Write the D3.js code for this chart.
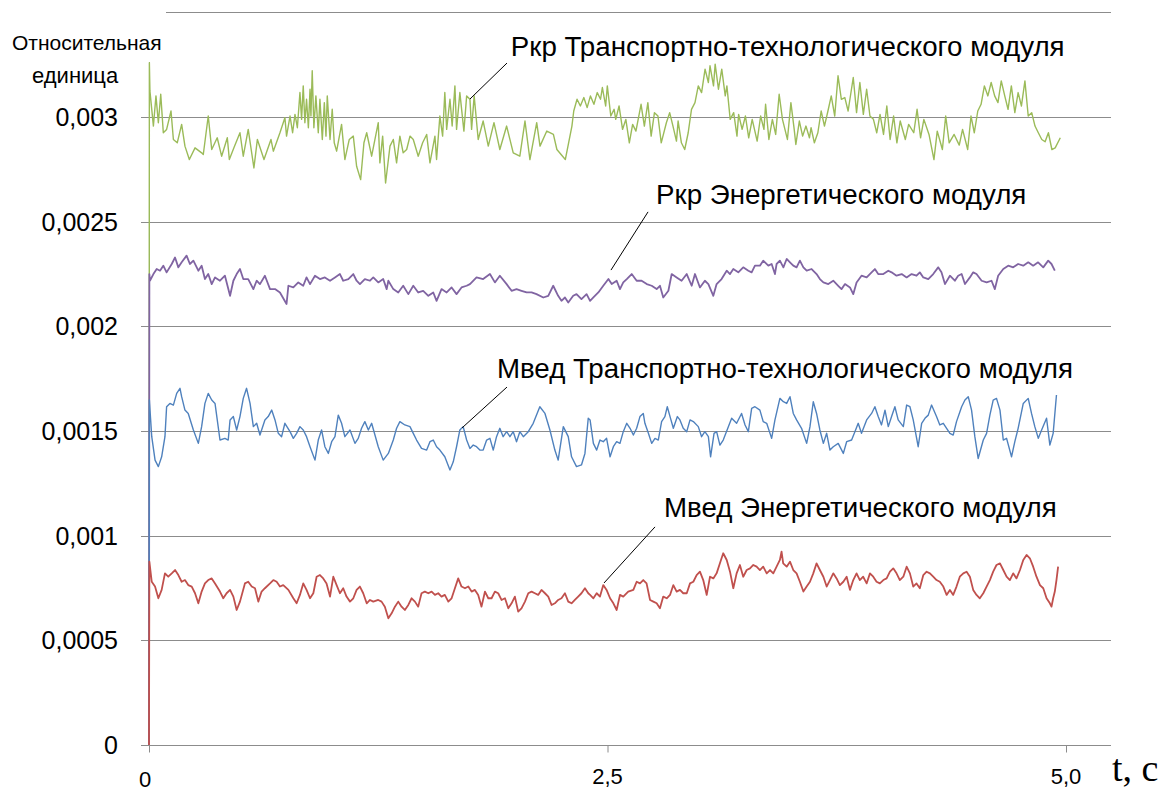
<!DOCTYPE html>
<html><head><meta charset="utf-8">
<script src="https://cdn.jsdelivr.net/npm/d3@7"></script>
<style>body{margin:0;background:#fff}svg{display:block}</style>
</head><body><svg id="c" width="1168" height="791"></svg>
<script>
// ---------- data ----------
const yTicks = [0, 0.0005, 0.001, 0.0015, 0.002, 0.0025, 0.003, 0.0035];
const yTickLabels = ["0", "0,0005", "0,001", "0,0015", "0,002", "0,0025", "0,003", "0,0035"];
const xTicks = [0, 2.5, 5.0];
const xTickLabels = ["0", "2,5", "5,0"];
const seriesNames = [
  "Ркр Транспортно-технологического модуля",
  "Ркр Энергетического модуля",
  "Мвед Транспортно-технологического модуля",
  "Мвед Энергетического модуля"
];
const yTitle = ["Относительная", "единица"];
const xTitle = "t, c";

const pkrTransport = [[0,0],[0.002,0.00326],[0.005,0.003125],[0.024,0.002957],[0.038,0.003101],[0.051,0.002973],[0.064,0.003109],[0.078,0.002925],[0.096,0.002941],[0.120,0.003029],[0.133,0.002893],[0.154,0.002877],[0.178,0.002965],[0.196,0.002861],[0.220,0.002797],[0.251,0.002853],[0.287,0.002829],[0.296,0.002821],[0.323,0.003005],[0.342,0.002845],[0.372,0.002901],[0.396,0.002813],[0.427,0.002901],[0.438,0.002797],[0.463,0.002853],[0.496,0.002925],[0.514,0.002813],[0.541,0.002941],[0.572,0.002757],[0.591,0.002893],[0.627,0.002797],[0.665,0.002893],[0.678,0.002837],[0.714,0.002925],[0.741,0.002997],[0.750,0.002909],[0.769,0.003005],[0.783,0.002925],[0.796,0.003013],[0.809,0.002949],[0.823,0.003117],[0.832,0.002989],[0.841,0.003149],[0.850,0.002973],[0.859,0.003085],[0.869,0.002949],[0.878,0.003133],[0.883,0.003005],[0.890,0.003221],[0.899,0.002949],[0.910,0.003101],[0.923,0.002925],[0.932,0.003085],[0.945,0.002893],[0.956,0.003069],[0.965,0.002909],[0.972,0.003101],[0.987,0.002893],[0.999,0.003037],[1.010,0.002877],[1.023,0.002837],[1.050,0.002965],[1.068,0.002797],[1.092,0.002893],[1.114,0.002909],[1.132,0.002765],[1.154,0.002701],[1.172,0.002877],[1.187,0.002925],[1.214,0.002813],[1.250,0.002973],[1.259,0.002781],[1.274,0.002909],[1.290,0.002685],[1.314,0.002861],[1.332,0.002893],[1.350,0.002781],[1.368,0.002909],[1.386,0.002829],[1.405,0.002845],[1.423,0.002909],[1.441,0.002893],[1.468,0.002813],[1.492,0.002877],[1.514,0.002917],[1.532,0.002781],[1.559,0.002909],[1.568,0.002797],[1.586,0.003005],[1.601,0.002909],[1.613,0.003117],[1.623,0.002941],[1.641,0.003085],[1.653,0.002957],[1.668,0.003149],[1.677,0.002941],[1.695,0.003117],[1.717,0.002933],[1.732,0.003101],[1.750,0.003085],[1.759,0.002941],[1.773,0.003101],[1.795,0.002893],[1.822,0.002981],[1.850,0.002861],[1.881,0.002973],[1.913,0.002845],[1.950,0.002957],[1.986,0.002829],[2.022,0.002813],[2.050,0.002981],[2.077,0.002797],[2.114,0.002973],[2.132,0.002861],[2.169,0.002933],[2.205,0.002917],[2.224,0.002845],[2.270,0.002797],[2.288,0.002877],[2.306,0.002957],[2.316,0.003029],[2.334,0.003085],[2.352,0.003053],[2.371,0.003093],[2.389,0.003045],[2.407,0.003101],[2.426,0.003061],[2.444,0.003117],[2.462,0.003085],[2.472,0.003141],[2.490,0.003053],[2.499,0.003149],[2.518,0.003005],[2.536,0.003037],[2.545,0.002989],[2.563,0.003053],[2.582,0.002941],[2.600,0.002989],[2.619,0.002877],[2.637,0.002965],[2.655,0.002933],[2.683,0.003061],[2.701,0.002957],[2.720,0.003069],[2.738,0.002909],[2.756,0.003021],[2.775,0.003005],[2.793,0.002877],[2.821,0.002973],[2.839,0.003021],[2.857,0.002957],[2.876,0.002885],[2.885,0.002981],[2.903,0.002877],[2.921,0.002845],[2.940,0.002925],[2.958,0.003037],[2.977,0.003069],[2.995,0.003149],[3.013,0.003117],[3.032,0.003229],[3.050,0.003165],[3.059,0.003245],[3.078,0.003149],[3.087,0.003253],[3.105,0.003133],[3.123,0.003229],[3.142,0.003101],[3.151,0.003149],[3.169,0.002989],[3.188,0.003021],[3.206,0.002909],[3.215,0.003013],[3.234,0.002941],[3.252,0.003005],[3.270,0.002901],[3.289,0.002989],[3.316,0.002885],[3.335,0.003005],[3.353,0.002941],[3.362,0.003061],[3.380,0.002893],[3.399,0.002989],[3.417,0.002917],[3.436,0.003109],[3.454,0.002989],[3.481,0.002893],[3.500,0.003069],[3.518,0.002941],[3.527,0.002869],[3.546,0.002981],[3.564,0.002909],[3.582,0.002957],[3.601,0.002901],[3.610,0.002949],[3.628,0.002877],[3.647,0.002925],[3.665,0.003029],[3.683,0.002957],[3.702,0.003029],[3.720,0.003101],[3.739,0.003005],[3.757,0.003197],[3.775,0.003085],[3.794,0.003093],[3.812,0.003029],[3.840,0.003189],[3.858,0.003021],[3.876,0.003165],[3.895,0.003013],[3.913,0.003133],[3.931,0.003005],[3.950,0.002989],[3.968,0.002925],[3.986,0.003013],[4.005,0.002917],[4.023,0.003053],[4.041,0.002893],[4.060,0.003005],[4.078,0.002877],[4.096,0.002981],[4.124,0.002893],[4.142,0.002965],[4.170,0.002925],[4.188,0.003037],[4.207,0.002901],[4.225,0.002989],[4.253,0.002917],[4.280,0.002797],[4.298,0.002933],[4.326,0.002845],[4.344,0.003005],[4.363,0.002877],[4.390,0.002917],[4.418,0.002866],[4.436,0.002941],[4.464,0.002845],[4.482,0.003005],[4.500,0.002925],[4.519,0.003029],[4.537,0.003061],[4.555,0.003149],[4.574,0.003101],[4.592,0.003165],[4.611,0.003101],[4.629,0.003069],[4.647,0.003173],[4.666,0.003101],[4.684,0.003037],[4.702,0.003149],[4.721,0.003021],[4.739,0.003117],[4.757,0.003053],[4.776,0.003173],[4.794,0.003005],[4.813,0.003021],[4.831,0.002957],[4.849,0.002925],[4.868,0.002893],[4.886,0.002882],[4.904,0.002925],[4.923,0.002845],[4.941,0.002853],[4.969,0.002901]];

const pkrEnergy = [[0,0],[0.002,0.00225],[0.005,0.002218],[0.024,0.00225],[0.042,0.002274],[0.060,0.002266],[0.078,0.00229],[0.096,0.002258],[0.124,0.002298],[0.142,0.002329],[0.160,0.002282],[0.178,0.002306],[0.205,0.002338],[0.223,0.002298],[0.242,0.002314],[0.269,0.002266],[0.287,0.00229],[0.305,0.002226],[0.323,0.00225],[0.342,0.002202],[0.360,0.002234],[0.387,0.002218],[0.414,0.002242],[0.442,0.002146],[0.460,0.002218],[0.478,0.00225],[0.496,0.002274],[0.514,0.002226],[0.541,0.002226],[0.569,0.002178],[0.587,0.002218],[0.605,0.002202],[0.632,0.002242],[0.660,0.002178],[0.687,0.002178],[0.714,0.002162],[0.750,0.002107],[0.760,0.002194],[0.787,0.002186],[0.814,0.00221],[0.841,0.002194],[0.859,0.002234],[0.878,0.002202],[0.905,0.002242],[0.932,0.002226],[0.959,0.002234],[0.987,0.002218],[1.014,0.002234],[1.041,0.00225],[1.059,0.002218],[1.087,0.002226],[1.114,0.00225],[1.132,0.002218],[1.150,0.002202],[1.177,0.002226],[1.205,0.002218],[1.223,0.002234],[1.250,0.00221],[1.277,0.002226],[1.296,0.002178],[1.305,0.002218],[1.332,0.002178],[1.359,0.002162],[1.386,0.002194],[1.414,0.002154],[1.441,0.002194],[1.468,0.002162],[1.495,0.00217],[1.523,0.002146],[1.550,0.002162],[1.568,0.002122],[1.595,0.002178],[1.623,0.002162],[1.650,0.002186],[1.677,0.002154],[1.704,0.002186],[1.732,0.002194],[1.750,0.002202],[1.786,0.002234],[1.822,0.002226],[1.859,0.00225],[1.886,0.00221],[1.913,0.002242],[1.950,0.002202],[1.977,0.00217],[2.004,0.002178],[2.031,0.00217],[2.059,0.002162],[2.086,0.002162],[2.113,0.002154],[2.150,0.002138],[2.177,0.002146],[2.204,0.002194],[2.231,0.002146],[2.249,0.002122],[2.268,0.002138],[2.286,0.002114],[2.313,0.002146],[2.331,0.002154],[2.358,0.00213],[2.386,0.002154],[2.405,0.002122],[2.423,0.002138],[2.450,0.002162],[2.477,0.002194],[2.505,0.002226],[2.523,0.002202],[2.550,0.002218],[2.568,0.002178],[2.586,0.00221],[2.605,0.002226],[2.632,0.00225],[2.659,0.002218],[2.686,0.002218],[2.714,0.002202],[2.741,0.002194],[2.768,0.002178],[2.786,0.002194],[2.804,0.002138],[2.832,0.00217],[2.850,0.00225],[2.877,0.002234],[2.904,0.002218],[2.932,0.00225],[2.959,0.002194],[2.977,0.00225],[3.004,0.002186],[3.031,0.002218],[3.050,0.002202],[3.077,0.002146],[3.095,0.002202],[3.122,0.002226],[3.150,0.002266],[3.168,0.00225],[3.186,0.002274],[3.213,0.002258],[3.240,0.002282],[3.268,0.002266],[3.286,0.002258],[3.304,0.00229],[3.331,0.00229],[3.349,0.002314],[3.377,0.00229],[3.395,0.002298],[3.413,0.00225],[3.422,0.002298],[3.440,0.002314],[3.459,0.002282],[3.477,0.002322],[3.495,0.002306],[3.513,0.00229],[3.531,0.002282],[3.549,0.002314],[3.568,0.002282],[3.586,0.002266],[3.613,0.002274],[3.640,0.00225],[3.658,0.002226],[3.677,0.00221],[3.704,0.002202],[3.731,0.002218],[3.758,0.002194],[3.776,0.002178],[3.795,0.002202],[3.822,0.002186],[3.840,0.002154],[3.858,0.00221],[3.885,0.002242],[3.913,0.002234],[3.940,0.002258],[3.958,0.002274],[3.976,0.00225],[4.004,0.00225],[4.031,0.002266],[4.049,0.002258],[4.076,0.002242],[4.104,0.00225],[4.131,0.002234],[4.158,0.00225],[4.185,0.002242],[4.203,0.002258],[4.222,0.002234],[4.249,0.002226],[4.276,0.00225],[4.303,0.002282],[4.321,0.002258],[4.340,0.002202],[4.367,0.002242],[4.394,0.002218],[4.412,0.002242],[4.431,0.00225],[4.449,0.002202],[4.476,0.002234],[4.494,0.002258],[4.512,0.00225],[4.540,0.002218],[4.567,0.00221],[4.594,0.002218],[4.612,0.002178],[4.630,0.002242],[4.658,0.002274],[4.685,0.00229],[4.712,0.002282],[4.739,0.002298],[4.767,0.00229],[4.794,0.002306],[4.821,0.00229],[4.848,0.002306],[4.876,0.002282],[4.903,0.002314],[4.921,0.002298],[4.939,0.002266]];

const mvedTransport = [[0,0],[0.002,0.001648],[0.015,0.001473],[0.033,0.001361],[0.051,0.00133],[0.069,0.001377],[0.087,0.001473],[0.096,0.001616],[0.114,0.001632],[0.133,0.001624],[0.151,0.00168],[0.169,0.001704],[0.178,0.001664],[0.196,0.0016],[0.214,0.001584],[0.242,0.001505],[0.269,0.001441],[0.287,0.001521],[0.305,0.001632],[0.323,0.00168],[0.342,0.001648],[0.360,0.001632],[0.387,0.001457],[0.414,0.001465],[0.432,0.001457],[0.442,0.001553],[0.460,0.001569],[0.478,0.001505],[0.496,0.001569],[0.514,0.001656],[0.532,0.001704],[0.551,0.001632],[0.569,0.001521],[0.587,0.001537],[0.605,0.001481],[0.632,0.001553],[0.650,0.001569],[0.669,0.0016],[0.687,0.001553],[0.705,0.001489],[0.723,0.001473],[0.741,0.001537],[0.769,0.001497],[0.787,0.001465],[0.805,0.001489],[0.823,0.001521],[0.841,0.001505],[0.859,0.001473],[0.878,0.001425],[0.905,0.001361],[0.923,0.001457],[0.941,0.001505],[0.959,0.001425],[0.978,0.001393],[0.996,0.001449],[1.014,0.001473],[1.032,0.001576],[1.050,0.001537],[1.068,0.001473],[1.096,0.001505],[1.123,0.001441],[1.141,0.001465],[1.159,0.001513],[1.177,0.001545],[1.196,0.001505],[1.214,0.001537],[1.232,0.001481],[1.250,0.001425],[1.277,0.001361],[1.305,0.001393],[1.332,0.001457],[1.350,0.001513],[1.368,0.001545],[1.395,0.001529],[1.423,0.001521],[1.441,0.001489],[1.459,0.001457],[1.486,0.001417],[1.514,0.001409],[1.532,0.001449],[1.550,0.001457],[1.568,0.001425],[1.586,0.001409],[1.613,0.001377],[1.641,0.001314],[1.659,0.001353],[1.677,0.001425],[1.695,0.001505],[1.713,0.001521],[1.732,0.001457],[1.750,0.001417],[1.768,0.001433],[1.786,0.001425],[1.804,0.001409],[1.822,0.001409],[1.841,0.001457],[1.859,0.001465],[1.877,0.001409],[1.895,0.001473],[1.913,0.001513],[1.931,0.001473],[1.950,0.001497],[1.968,0.001473],[1.986,0.001497],[2.004,0.001449],[2.022,0.001497],[2.041,0.001473],[2.068,0.001497],[2.095,0.001537],[2.131,0.001616],[2.159,0.001584],[2.186,0.001505],[2.213,0.001409],[2.231,0.001361],[2.259,0.001521],[2.286,0.001473],[2.304,0.001377],[2.331,0.00133],[2.358,0.001338],[2.377,0.001393],[2.395,0.001561],[2.405,0.001553],[2.423,0.001441],[2.441,0.001409],[2.459,0.001457],[2.477,0.001449],[2.495,0.001465],[2.514,0.001377],[2.532,0.001425],[2.550,0.001449],[2.568,0.001441],[2.586,0.001497],[2.605,0.001537],[2.623,0.001513],[2.641,0.001481],[2.659,0.001513],[2.677,0.001569],[2.695,0.001584],[2.704,0.001537],[2.723,0.001489],[2.741,0.001441],[2.759,0.001465],[2.777,0.001457],[2.795,0.001545],[2.813,0.001569],[2.826,0.001616],[2.841,0.001569],[2.859,0.001513],[2.881,0.001569],[2.895,0.001553],[2.913,0.001513],[2.932,0.001497],[2.950,0.001553],[2.968,0.001545],[2.995,0.001521],[3.013,0.001473],[3.031,0.001497],[3.050,0.001473],[3.062,0.001377],[3.081,0.001489],[3.095,0.001497],[3.113,0.001433],[3.131,0.001457],[3.159,0.001521],[3.177,0.001561],[3.204,0.001537],[3.231,0.001584],[3.250,0.001529],[3.268,0.001497],[3.286,0.001608],[3.304,0.001616],[3.331,0.0016],[3.349,0.001545],[3.368,0.001537],[3.395,0.001465],[3.413,0.001553],[3.440,0.001656],[3.459,0.00164],[3.477,0.001632],[3.495,0.001664],[3.513,0.001584],[3.531,0.001553],[3.558,0.001513],[3.586,0.001441],[3.604,0.001521],[3.622,0.00164],[3.640,0.001584],[3.658,0.001505],[3.677,0.001441],[3.695,0.001489],[3.713,0.001409],[3.731,0.001425],[3.758,0.001441],[3.786,0.001393],[3.804,0.001449],[3.831,0.001457],[3.849,0.001497],[3.867,0.001537],[3.885,0.001489],[3.913,0.001553],[3.940,0.001584],[3.958,0.001616],[3.976,0.001569],[3.994,0.001529],[4.013,0.0016],[4.031,0.001521],[4.049,0.001569],[4.067,0.001616],[4.085,0.001553],[4.113,0.001521],[4.131,0.001624],[4.149,0.001616],[4.167,0.001553],[4.194,0.001425],[4.213,0.001537],[4.231,0.001561],[4.249,0.001576],[4.267,0.001624],[4.294,0.001569],[4.312,0.001529],[4.331,0.001537],[4.349,0.001513],[4.367,0.001489],[4.385,0.001481],[4.403,0.001545],[4.431,0.001616],[4.449,0.001648],[4.467,0.001664],[4.485,0.0016],[4.503,0.001473],[4.521,0.001369],[4.549,0.001457],[4.567,0.001489],[4.585,0.001576],[4.603,0.001648],[4.621,0.001656],[4.640,0.0016],[4.658,0.001457],[4.676,0.001465],[4.703,0.001377],[4.721,0.001449],[4.739,0.001513],[4.767,0.001632],[4.794,0.001656],[4.812,0.001584],[4.830,0.001521],[4.849,0.001465],[4.867,0.001505],[4.894,0.001561],[4.912,0.001433],[4.930,0.001489],[4.948,0.001672]];

const mvedEnergy = [[0,0],[0.002,0.000876],[0.015,0.00078],[0.033,0.000757],[0.051,0.000701],[0.069,0.000741],[0.087,0.00082],[0.105,0.000804],[0.124,0.00082],[0.142,0.000836],[0.160,0.000812],[0.178,0.00078],[0.196,0.000788],[0.214,0.000764],[0.233,0.000757],[0.251,0.000725],[0.269,0.000677],[0.287,0.000733],[0.305,0.000772],[0.323,0.000788],[0.342,0.000796],[0.360,0.000772],[0.387,0.000733],[0.405,0.000701],[0.423,0.000725],[0.442,0.000741],[0.460,0.000709],[0.478,0.000645],[0.496,0.000685],[0.523,0.000772],[0.541,0.00078],[0.560,0.000757],[0.578,0.000749],[0.596,0.000685],[0.614,0.000733],[0.632,0.000749],[0.660,0.000772],[0.678,0.000788],[0.696,0.00078],[0.714,0.000757],[0.732,0.000764],[0.760,0.000741],[0.787,0.000701],[0.805,0.000677],[0.823,0.000717],[0.841,0.000772],[0.859,0.000741],[0.878,0.000701],[0.896,0.000725],[0.914,0.000804],[0.932,0.000812],[0.950,0.000796],[0.968,0.000772],[0.987,0.000709],[1.005,0.000804],[1.023,0.000764],[1.041,0.000725],[1.059,0.000749],[1.077,0.000709],[1.096,0.000685],[1.114,0.000701],[1.132,0.000741],[1.150,0.000757],[1.168,0.000725],[1.187,0.000677],[1.205,0.000693],[1.223,0.000685],[1.250,0.000693],[1.268,0.000685],[1.286,0.000661],[1.305,0.000605],[1.323,0.000629],[1.341,0.000661],[1.359,0.000685],[1.377,0.000661],[1.395,0.000645],[1.414,0.000669],[1.432,0.000701],[1.450,0.000685],[1.468,0.000661],[1.486,0.000725],[1.504,0.000733],[1.523,0.000725],[1.541,0.000733],[1.559,0.000717],[1.577,0.000725],[1.595,0.000709],[1.613,0.000717],[1.632,0.000685],[1.650,0.000701],[1.668,0.000749],[1.686,0.000796],[1.704,0.000757],[1.723,0.000749],[1.741,0.000757],[1.759,0.000733],[1.777,0.000741],[1.795,0.000717],[1.813,0.000661],[1.832,0.000733],[1.850,0.000701],[1.868,0.000701],[1.886,0.000733],[1.904,0.000725],[1.922,0.000693],[1.941,0.000701],[1.959,0.000653],[1.977,0.000677],[1.995,0.000709],[2.013,0.000637],[2.031,0.000653],[2.050,0.000685],[2.068,0.000725],[2.086,0.000733],[2.104,0.000725],[2.122,0.000717],[2.140,0.000741],[2.159,0.000725],[2.177,0.000709],[2.195,0.000669],[2.213,0.000677],[2.231,0.000693],[2.249,0.000701],[2.268,0.000725],[2.286,0.000685],[2.304,0.000677],[2.322,0.000693],[2.340,0.000709],[2.358,0.000725],[2.377,0.000749],[2.395,0.000725],[2.405,0.000717],[2.423,0.000701],[2.441,0.000725],[2.459,0.000709],[2.477,0.000764],[2.495,0.000741],[2.514,0.000701],[2.532,0.000677],[2.550,0.000645],[2.568,0.000717],[2.586,0.000709],[2.613,0.000733],[2.641,0.000741],[2.659,0.00078],[2.677,0.000772],[2.695,0.000788],[2.713,0.000772],[2.732,0.000693],[2.750,0.000685],[2.768,0.000677],[2.786,0.000653],[2.804,0.000709],[2.823,0.000701],[2.841,0.000717],[2.859,0.000764],[2.877,0.000733],[2.895,0.000741],[2.913,0.000725],[2.932,0.000725],[2.950,0.000772],[2.968,0.00078],[2.986,0.000812],[3.004,0.000828],[3.022,0.000788],[3.041,0.000717],[3.059,0.000804],[3.077,0.000796],[3.095,0.00082],[3.113,0.000868],[3.131,0.000916],[3.150,0.000884],[3.168,0.000828],[3.186,0.000749],[3.204,0.00082],[3.222,0.00086],[3.240,0.000804],[3.259,0.000836],[3.277,0.000844],[3.295,0.00086],[3.313,0.000852],[3.331,0.000836],[3.349,0.000852],[3.368,0.00082],[3.386,0.000836],[3.404,0.00082],[3.422,0.000852],[3.440,0.000884],[3.449,0.000924],[3.458,0.000868],[3.477,0.000852],[3.495,0.000876],[3.513,0.000836],[3.531,0.00082],[3.549,0.00078],[3.568,0.000733],[3.586,0.000757],[3.604,0.00078],[3.622,0.00082],[3.640,0.000868],[3.658,0.000836],[3.677,0.000804],[3.695,0.000757],[3.713,0.000788],[3.731,0.00082],[3.749,0.000796],[3.767,0.000764],[3.786,0.00078],[3.804,0.000804],[3.822,0.000741],[3.840,0.000788],[3.858,0.00082],[3.876,0.000788],[3.894,0.000804],[3.913,0.000772],[3.931,0.00082],[3.949,0.000804],[3.967,0.00078],[3.985,0.000772],[4.004,0.000788],[4.022,0.000796],[4.040,0.000828],[4.058,0.000844],[4.076,0.00082],[4.094,0.000788],[4.113,0.000804],[4.131,0.000852],[4.149,0.00082],[4.167,0.000757],[4.185,0.000772],[4.203,0.000749],[4.222,0.000812],[4.240,0.000828],[4.258,0.00082],[4.276,0.000804],[4.294,0.000788],[4.312,0.00078],[4.331,0.000757],[4.349,0.000717],[4.367,0.000741],[4.385,0.000717],[4.403,0.000757],[4.421,0.000804],[4.440,0.00082],[4.458,0.000828],[4.476,0.000804],[4.494,0.000741],[4.512,0.000717],[4.530,0.000701],[4.549,0.000725],[4.567,0.000757],[4.585,0.000788],[4.603,0.000828],[4.621,0.00086],[4.640,0.000868],[4.658,0.000836],[4.676,0.000804],[4.694,0.000788],[4.712,0.00082],[4.730,0.000796],[4.749,0.000836],[4.767,0.000884],[4.785,0.000908],[4.803,0.000892],[4.821,0.000852],[4.839,0.000804],[4.858,0.000764],[4.876,0.000749],[4.894,0.000701],[4.912,0.000677],[4.921,0.000661],[4.930,0.000701],[4.939,0.000733],[4.948,0.000788],[4.957,0.000852]];

const seriesData = [pkrTransport, pkrEnergy, mvedTransport, mvedEnergy];
const seriesColors = ["#9bbb59", "#8064a2", "#4f81bd", "#c0504d"];
const seriesWidths = [1.4, 1.8, 1.4, 1.8];
// annotation anchors in data units: [labelT, labelV, leaderFromT, leaderFromV, leaderToT, leaderToV]
const labelPos = [
  [1.973, 0.00329, 1.952, 0.003258, 1.750, 0.003086],
  [2.765, 0.002587, 2.721, 0.002547, 2.519, 0.002269],
  [1.897, 0.001753, 1.952, 0.001710, 1.707, 0.001515],
  [2.808, 0.001089, 2.759, 0.001042, 2.481, 0.000774]
];

// ---------- chart ----------
const svg = d3.select("#c");
const x = d3.scaleLinear().domain([0, 5]).range([149, 1066]);
const y = d3.scaleLinear().domain([0, 0.0035]).range([745, 12.4]);
const gridColor = "#8c8c8c";

// gridlines
svg.append("g").selectAll("line").data(yTicks.filter(d => d > 0)).join("line")
  .attr("x1", 141).attr("x2", 1111)
  .attr("y1", d => Math.round(y(d)) + 0.5).attr("y2", d => Math.round(y(d)) + 0.5)
  .attr("stroke", gridColor).attr("stroke-width", 1);

// y axis line
svg.append("line").attr("x1", x(0) + 0.5).attr("x2", x(0) + 0.5)
  .attr("y1", y(0)).attr("y2", y(0.0035)).attr("stroke", gridColor);

// x axis
const xAxis = d3.axisBottom(x).tickValues(xTicks).tickSize(7).tickFormat("");
const gx = svg.append("g").attr("transform", `translate(0,${Math.round(y(0)) + 0.5})`).call(xAxis);
gx.select(".domain").attr("d", "M141,0H1111").attr("stroke", gridColor);
gx.selectAll(".tick line").attr("stroke", gridColor);

// series
const line = d3.line().x(d => x(d[0])).y(d => y(d[1]));
svg.append("g").selectAll("path").data(seriesData).join("path")
  .attr("d", line).attr("fill", "none")
  .attr("stroke", (d, i) => seriesColors[i]).attr("stroke-width", (d, i) => seriesWidths[i])
  .attr("stroke-linejoin", "round");

// y tick labels
svg.append("g").selectAll("text").data(yTicks.slice(0, 7)).join("text")
  .attr("x", 118).attr("y", d => y(d)).attr("dy", "0.36em")
  .attr("text-anchor", "end").attr("font-family", "Liberation Sans, Arial, sans-serif")
  .attr("font-size", 25).attr("fill", "#000")
  .text((d, i) => yTickLabels[i]);

// x tick labels
svg.append("g").selectAll("text").data(xTicks).join("text")
  .attr("x", (d, i) => x(d) + (i === 0 ? -4 : 0)).attr("y", (d, i) => i === 0 ? 787 : 784)
  .attr("text-anchor", "middle").attr("font-family", "Liberation Sans, Arial, sans-serif")
  .attr("font-size", 22).attr("fill", "#000")
  .text((d, i) => xTickLabels[i]);

// x title
svg.append("text").attr("x", 1112).attr("y", 781)
  .attr("font-family", "Liberation Serif, Times New Roman, serif")
  .attr("font-size", 38).attr("fill", "#000").text(xTitle);

// y title box (white) covering the top-left corner
svg.append("rect").attr("x", 0).attr("y", 0).attr("width", 166).attr("height", 62).attr("fill", "#fff");
svg.append("text").attr("x", 12).attr("y", 50)
  .attr("font-family", "Liberation Sans, Arial, sans-serif").attr("font-size", 21)
  .attr("fill", "#000").text(yTitle[0]);
svg.append("text").attr("x", 32).attr("y", 83)
  .attr("font-family", "Liberation Sans, Arial, sans-serif").attr("font-size", 22)
  .attr("fill", "#000").text(yTitle[1]);

// annotations
const ann = svg.append("g");
labelPos.forEach((p, i) => {
  ann.append("line")
    .attr("x1", x(p[2])).attr("y1", y(p[3])).attr("x2", x(p[4])).attr("y2", y(p[5]))
    .attr("stroke", "#000").attr("stroke-width", 1);
  ann.append("text").attr("x", x(p[0])).attr("y", y(p[1]))
    .attr("font-family", "Liberation Sans, Arial, sans-serif").attr("font-size", 27.7)
    .attr("fill", "#000").text(seriesNames[i]);
});
</script>
</body></html>
